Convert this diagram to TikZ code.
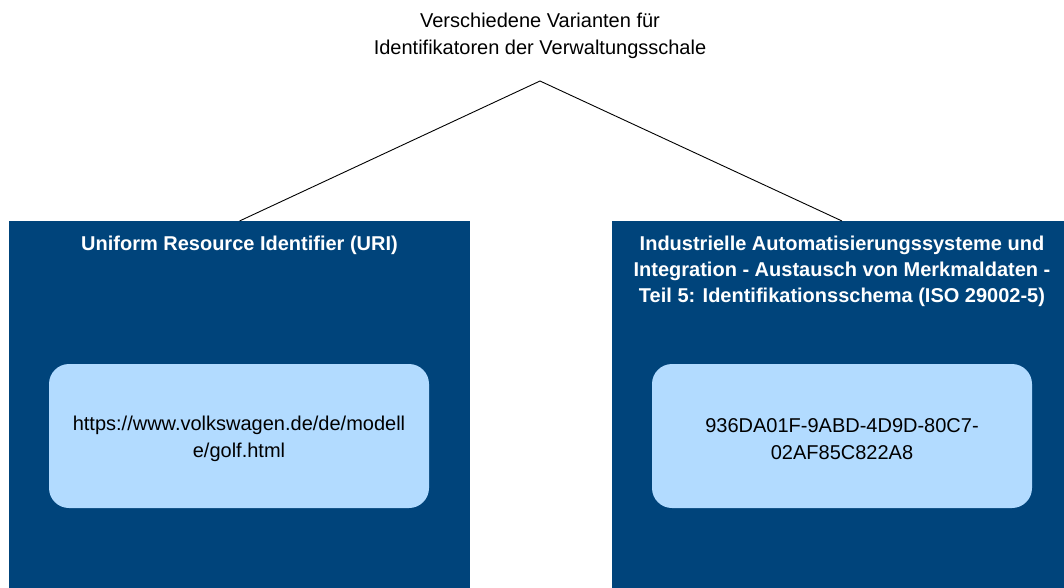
\documentclass[tikz,border=0pt]{standalone}
\usepackage{fontspec}
\setmainfont{Liberation Sans}
\definecolor{vwsdark}{RGB}{0,68,123}
\definecolor{vwslight}{RGB}{178,219,255}
\tikzset{
    variant/.style={draw=none, fill=vwsdark, minimum width=461pt, minimum height=370pt, anchor=north},
    heading/.style={text=white, font=\bfseries\fontsize{20}{26}\selectfont, align=center, anchor=north},
    idbox/.style={fill=vwslight, rounded corners=20pt, minimum width=380pt, minimum height=144pt, align=center, font=\fontsize{20}{27}\selectfont}
}
\begin{document}
\begin{tikzpicture}[x=1pt, y=-1pt]
    \useasboundingbox (0, 0) rectangle (1064, 587);

    \node[align=center, font=\fontsize{20}{27}\selectfont] (title) at (540, 35.5) {Verschiedene Varianten für\\Identifikatoren der Verwaltungsschale};
    \coordinate (apex) at (540, 81);

    \node[variant] (uri) at (239.5, 221) {};
    \node[variant] (iso) at (842, 221) {};

    \node[heading] (uriHead) at (239.5, 232.5) {Uniform Resource Identifier (URI)};
    \node[heading] (isoHead) at (842, 232.5) {Industrielle Automatisierungssysteme und\\Integration - Austausch von Merkmaldaten -\\Teil 5: Identifikationsschema (ISO 29002-5)};

    \node[idbox] (uriId) at (239, 436) {};
    \node[idbox] (isoId) at (842, 436) {};
    \node[align=center, font=\fontsize{20}{27}\selectfont] (uriText) at (239, 439) {https://www.volkswagen.de/de/modell\\e/golf.html};
    \node[align=center, font=\fontsize{20}{27}\selectfont] (isoText) at (842, 439) {936DA01F-9ABD-4D9D-80C7-\\02AF85C822A8};

    \draw[line width=0.9pt] (apex) -- (uri.north);
    \draw[line width=0.9pt] (apex) -- (iso.north);

\end{tikzpicture}
\end{document}
